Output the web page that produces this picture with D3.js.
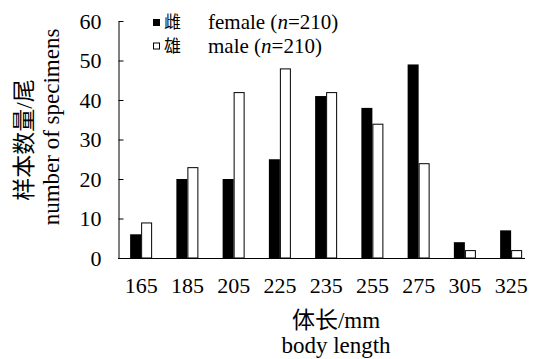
<!DOCTYPE html>
<html>
<head>
    <meta charset="utf-8" />
    <title>Body length distribution</title>
    <style>
        body { margin: 0; background: #fff; }
        svg text { font-family: "Liberation Serif", "Noto Sans CJK SC", serif; fill: #000; }
    </style>
    <script type="text/javascript" src="https://cdn.jsdelivr.net/npm/d3@7/dist/d3.min.js"></script>
</head>
<body>
    <script type="text/javascript">
        // data
        const categories = ["165", "185", "205", "225", "235", "255", "275", "305", "325"];
        const female = [6, 20, 20, 25, 41, 38, 49, 4, 7];
        const male = [9, 23, 42, 48, 42, 34, 24, 2, 2];
        const yTicks = [0, 10, 20, 30, 40, 50, 60];

        const margin = { left: 118, bottom: 258, top: 21 };
        const width = 534, height = 359;
        const step = 46.25, barW = 11;

        const svg = d3.select('body')
            .append('svg')
                .attr('width', width)
                .attr('height', height);

        const x = d3.scaleBand()
            .domain(categories)
            .range([margin.left, margin.left + step * categories.length]);
        const y = d3.scaleLinear()
            .domain([0, 60])
            .range([margin.bottom, margin.top]);

        const center = (d) => x(d) + x.bandwidth() / 2;

        // bars
        svg.append('g').selectAll('rect')
            .data(categories)
            .enter().append('rect')
                .attr('x', (d) => center(d) - barW)
                .attr('y', (d, i) => y(female[i]))
                .attr('width', barW)
                .attr('height', (d, i) => y(0) - y(female[i]))
                .style('fill', '#000');

        svg.append('g').selectAll('rect')
            .data(categories)
            .enter().append('rect')
                .attr('x', (d) => center(d) + 0.5)
                .attr('y', (d, i) => y(male[i]) + 0.5)
                .attr('width', barW - 1)
                .attr('height', (d, i) => y(0) - y(male[i]) - 0.5)
                .style('fill', '#fff')
                .style('stroke', '#000')
                .style('stroke-width', 1);

        // x axis
        const xAxis = svg.append('g')
            .attr('transform', 'translate(0,' + margin.bottom + ')')
            .call(d3.axisBottom(x).tickSize(0).tickPadding(19));
        xAxis.select('.domain').remove();
        xAxis.attr('font-family', null);
        xAxis.selectAll('text').style('font-size', '22px');
        svg.append('line')
            .attr('x1', margin.left).attr('x2', 525)
            .attr('y1', margin.bottom + 0.5).attr('y2', margin.bottom + 0.5)
            .style('stroke', '#000');

        // y axis, ticks point inward
        const yAxis = svg.append('g')
            .attr('transform', 'translate(' + (margin.left + 0.5) + ',0)')
            .call(d3.axisLeft(y).tickValues(yTicks).tickSizeInner(-5).tickSizeOuter(0).tickPadding(17));
        yAxis.attr('font-family', null);
        yAxis.selectAll('text').style('font-size', '22px');

        // axis titles
        svg.append('text')
            .attr('x', 336).attr('y', 328)
            .style('text-anchor', 'middle').style('font-size', '23px')
            .text('体长/mm');
        svg.append('text')
            .attr('x', 336).attr('y', 353)
            .style('text-anchor', 'middle').style('font-size', '23px')
            .text('body length');

        svg.append('text')
            .attr('transform', 'translate(32,140) rotate(-90)')
            .style('text-anchor', 'middle').style('font-size', '23px')
            .text('样本数量/尾');
        svg.append('text')
            .attr('transform', 'translate(59,127) rotate(-90)')
            .style('text-anchor', 'middle').style('font-size', '23px')
            .text('number of specimens');

        // legend
        const legendItems = [
            { zh: '雌', en: 'female', fill: '#000' },
            { zh: '雄', en: 'male', fill: '#fff' }
        ];
        const legend = svg.selectAll('.legends')
            .data(legendItems)
            .enter().append('g')
                .attr('class', 'legends')
                .attr('transform', (d, i) => 'translate(153,' + (29 + i * 23.5) + ')');

        legend.append('rect')
            .attr('x', 0.5).attr('y', -9.5)
            .attr('width', 6).attr('height', 6)
            .style('fill', (d) => d.fill)
            .style('stroke', '#000');
        legend.append('text')
            .attr('x', 11).attr('y', -1)
            .style('font-size', '17px')
            .text((d) => d.zh);
        const en = legend.append('text')
            .attr('x', 55).attr('y', 0)
            .style('font-size', '21px');
        en.append('tspan').text((d) => d.en + ' (');
        en.append('tspan').style('font-style', 'italic').text('n');
        en.append('tspan').text('=210)');
    </script>
</body>
</html>
